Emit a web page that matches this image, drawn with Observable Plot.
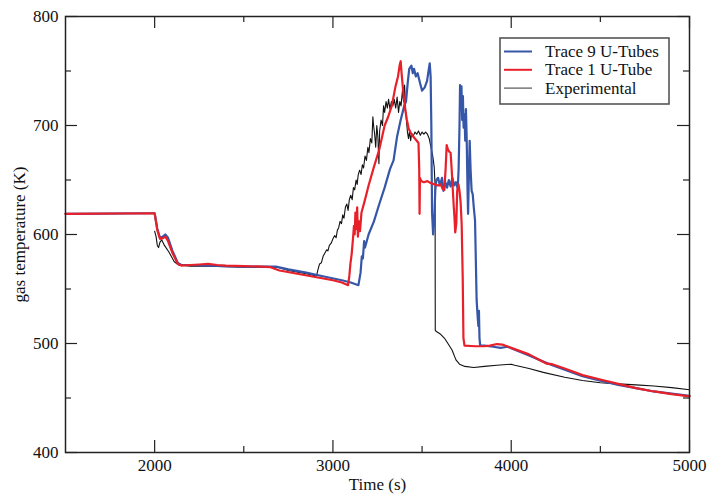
<!DOCTYPE html>
<html><head><meta charset="utf-8">
<script src="https://cdn.jsdelivr.net/npm/d3@7"></script>
<script src="https://cdn.jsdelivr.net/npm/@observablehq/plot@0.6"></script>
<style>
body{margin:0;background:#fff}
#chart{width:708px;height:495px}
</style>
</head><body><div id="chart"></div>
<script>
// ---- data ----
const seriesNames = ["Trace 9 U-Tubes", "Trace 1 U-Tube", "Experimental"];
const seriesColors = ["#3656a8", "#e8202a", "#111111"];

const trace9Time = [1500,1990,2000,2015,2030,2045,2060,2075,2100,2130,2150,2200,2300,2400,2500,2600,2680,2750,2850,2950,3050,3100,3143,3155,3162,3168,3175,3180,3200,3230,3260,3290,3320,3340,3360,3380,3400,3410,3420,3428,3440,3448,3455,3465,3475,3490,3500,3515,3528,3538,3543,3548,3552,3556,3562,3568,3574,3580,3590,3600,3612,3620,3630,3640,3650,3660,3670,3680,3690,3700,3705,3710,3713,3717,3721,3725,3729,3733,3738,3742,3746,3750,3755,3758,3762,3767,3772,3778,3784,3790,3797,3806,3812,3816,3819,3822,3826,3850,3900,3940,3980,4010,4100,4200,4300,4400,4500,4600,4700,4800,4900,5000];
const trace9Temp = [619,619.5,619.5,605,597,598,600,597,585,574,572,572,571.5,571,570.5,570.5,570.5,568,565,561.5,558,556,553.5,565,580,578,594,588,600,612,628,643,660,668,690,705,718,722,740,752,755,748,752,745,748,738,732,735,741,752,757,745,700,620,600,612,640,650,652,645,652,640,648,643,650,644,652,645,648,642,660,700,737,715,736,705,727,698,710,686,715,690,640,619,650,686,660,640,637,625,613,540,524,516,530,505,498,498,497,496,497,495,489,482,476,470,466,462,459,456,454,452];

const trace1Time = [1500,2000,2015,2030,2045,2060,2075,2100,2130,2150,2200,2250,2300,2350,2400,2500,2600,2650,2700,2800,2900,3000,3050,3085,3092,3098,3105,3112,3118,3122,3126,3130,3136,3140,3146,3152,3160,3180,3200,3230,3260,3290,3310,3330,3350,3365,3375,3380,3385,3395,3405,3415,3425,3440,3455,3470,3480,3484,3486,3488,3495,3510,3530,3550,3570,3590,3605,3615,3625,3632,3638,3645,3652,3660,3666,3672,3678,3682,3686,3692,3697,3704,3710,3716,3722,3728,3732,3738,3800,3850,3880,3920,3950,4000,4100,4170,4200,4230,4300,4400,4500,4600,4700,4800,4900,5000];
const trace1Temp = [619,619.5,604,596,596.5,598,594,583,573,571.5,572,572.5,573,572,571.5,571,570.5,570,567,564,561,558,556,553.5,562,573,582,595,608,600,620,605,625,598,612,603,620,632,645,662,678,700,708,718,735,745,756,759,748,730,715,705,697,692,689,686,684,660,619,652,649,648,649,647,646,645,646,642,641,660,682,678,676,675,660,642,625,615,602,610,640,646,640,630,610,560,505,498,497.5,497.5,498,499.5,499,496,490,484,481.5,481,477,471,467,463,459,456,453.5,451.5];

const expTime = [2000,2008,2015,2022,2030,2040,2055,2080,2110,2135,2200,2300,2400,2500,2600,2690,2750,2850,2908,2915,2925,2935,2945,2955,2965,2972,2980,2990,3000,3010,3018,3025,3032,3040,3048,3055,3062,3070,3078,3085,3092,3100,3108,3115,3122,3130,3136,3142,3150,3158,3165,3172,3180,3188,3196,3202,3210,3218,3224,3228,3234,3240,3246,3252,3258,3262,3270,3278,3284,3290,3298,3305,3312,3320,3328,3336,3344,3352,3360,3368,3375,3382,3390,3396,3402,3408,3412,3418,3424,3430,3436,3442,3450,3460,3470,3480,3490,3500,3510,3520,3530,3540,3550,3560,3568,3573,3574,3580,3600,3625,3645,3668,3690,3710,3740,3790,3850,3920,4000,4020,4100,4180,4300,4400,4500,4600,4700,4800,4900,5000];
const expTemp = [603,598,590,588,593,595,590,584,575,572,571,571,570.5,570,570,570,567,564,562,567,573,574,580,583,586,585,590,592,596,599,597,604,606,612,610,618,615,625,628,622,632,636,632,643,641,650,646,655,659,655,664,661,672,668,680,675,688,684,708,700,692,680,700,690,665,695,705,700,718,712,722,716,724,715,722,718,724,716,726,712,722,718,732,722,737,714,705,694,688,695,686,693,690,694,692,695,691,694,692,694,692,688,680,672,662,645,512,511,509,505,500,494,485,481,479,478,479,480,481,480,477,473.5,469,466,464,463,462,461,459.5,457.5];

const xMajorTicks = [2000, 3000, 4000, 5000];
const xMinorTicks = [2500, 3500, 4500];
const yMajorTicks = [400, 500, 600, 700, 800];
const yMinorTicks = [450, 550, 650, 750];
const xLabel = "Time (s)";
const yLabel = "gas temperature (K)";

// ---- build ----
const toRows = (t, v) => t.map((d, i) => ({t: d, v: v[i]}));
const rows9 = toRows(trace9Time, trace9Temp);
const rows1 = toRows(trace1Time, trace1Temp);
const rowsE = toRows(expTime, expTemp);

const xDom = [1500, 5000], yDom = [400, 800];
const W = 708, H = 495, mT = 16, mR = 19, mB = 43, mL = 65;
const pw = W - mL - mR, ph = H - mT - mB;
const axisColor = "#222";
const font = "'Liberation Serif', 'DejaVu Serif', serif";
// tick lengths (12px major, 6px minor) expressed in data units
const yLen = px => px / ph * (yDom[1] - yDom[0]);
const xLen = px => px / pw * (xDom[1] - xDom[0]);

const tickMarks = [];
[[xMajorTicks, 12], [xMinorTicks, 6]].forEach(([ticks, len]) => {
  tickMarks.push(Plot.ruleX(ticks, {x: d => d, y1: yDom[0], y2: yDom[0] + yLen(len), stroke: axisColor, strokeWidth: 1.2}));
  tickMarks.push(Plot.ruleX(ticks, {x: d => d, y1: yDom[1] - yLen(len), y2: yDom[1], stroke: axisColor, strokeWidth: 1.2}));
});
[[yMajorTicks, 12], [yMinorTicks, 6]].forEach(([ticks, len]) => {
  tickMarks.push(Plot.ruleY(ticks, {y: d => d, x1: xDom[0], x2: xDom[0] + xLen(len), stroke: axisColor, strokeWidth: 1.2}));
  tickMarks.push(Plot.ruleY(ticks, {y: d => d, x1: xDom[1] - xLen(len), x2: xDom[1], stroke: axisColor, strokeWidth: 1.2}));
});

const chart = Plot.plot({
  width: W, height: H,
  marginTop: mT, marginRight: mR, marginBottom: mB, marginLeft: mL,
  style: {fontFamily: font, fontSize: "17px", color: "#111", background: "#fff"},
  x: {domain: xDom},
  y: {domain: yDom},
  marks: [
    Plot.line(rowsE, {x: "t", y: "v", stroke: seriesColors[2], strokeWidth: 1.1}),
    Plot.line(rows9, {x: "t", y: "v", stroke: seriesColors[0], strokeWidth: 2.2}),
    Plot.line(rows1, {x: "t", y: "v", stroke: seriesColors[1], strokeWidth: 2.2}),
    ...tickMarks,
    Plot.axisX({ticks: xMajorTicks, tickSize: 0, tickPadding: 6, label: null, fontSize: 17, tickFormat: d => String(d)}),
    Plot.axisY({ticks: yMajorTicks, tickSize: 0, tickPadding: 7, label: null, fontSize: 17, tickFormat: d => String(d)}),
    Plot.text([xLabel], {frameAnchor: "bottom", dy: 32, lineAnchor: "middle", textAnchor: "middle", fontSize: 17}),
    Plot.text([yLabel], {frameAnchor: "left", dx: -46, rotate: -90, lineAnchor: "middle", textAnchor: "middle", fontSize: 17}),
    Plot.frame({stroke: axisColor, strokeWidth: 1.5})
  ]
});
document.getElementById("chart").appendChild(chart);

// legend box inside the plot (top-right)
const svg = d3.select(chart);
const lg = svg.append("g").attr("transform", "translate(500,38)");
lg.append("rect").attr("x", 0).attr("y", 0).attr("width", 169).attr("height", 66)
  .attr("fill", "#fff").attr("stroke", "#555").attr("stroke-width", 1.6);
seriesNames.forEach((name, i) => {
  const cy = 13.5 + i * 18.3;
  lg.append("line").attr("x1", 4).attr("x2", 32).attr("y1", cy).attr("y2", cy)
    .attr("stroke", i === 2 ? "#555" : seriesColors[i]).attr("stroke-width", i === 2 ? 1.2 : 2);
  lg.append("text").attr("x", 45).attr("y", cy + 5.5).text(name)
    .attr("text-anchor", "start")
    .attr("font-family", font).attr("font-size", 17).attr("fill", "#111");
});
</script>
</body></html>
